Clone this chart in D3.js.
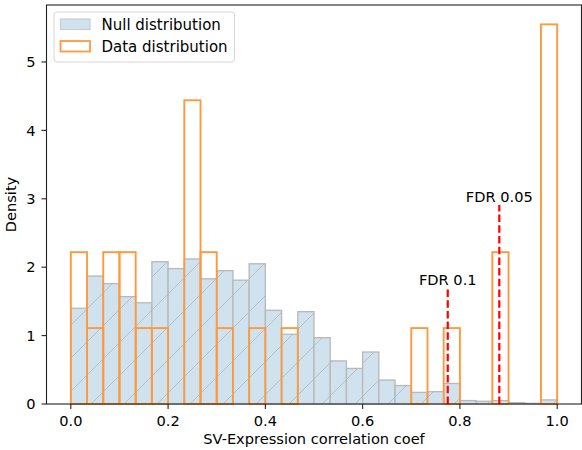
<!DOCTYPE html>
<html><head><meta charset="utf-8">
<script src="https://cdn.jsdelivr.net/npm/d3@7"></script>
<style>body{margin:0;background:#fff}text{font-family:"DejaVu Sans",sans-serif;fill:#000}</style>
</head><body><svg id="c" width="582" height="450"></svg>
<script>
const binCount = 30;
const binRange = [0, 1];
const nullDensity = [1.40,1.87,1.76,1.57,1.48,2.08,1.98,2.12,1.83,1.95,1.81,2.05,1.37,1.02,1.35,0.97,0.63,0.52,0.76,0.35,0.27,0.17,0.18,0.30,0.05,0.04,0.05,0.02,0.01,0.06];
const dataDensity = [2.22,1.11,2.22,2.22,1.11,1.11,0,4.44,2.22,1.11,0,1.11,0,1.11,0,0,0,0,0,0,0,1.11,0,1.11,0,0,2.22,0,0,5.55];
const fdrLabels = ["FDR 0.1","FDR 0.05"];
const fdrX = [0.775, 0.881];
const fdrTop = [1.70, 2.91];
const xTicks = [0,0.2,0.4,0.6,0.8,1.0];
const yTicks = [0,1,2,3,4,5];
const legendLabels = ["Null distribution","Data distribution"];
const xLabel = "SV-Expression correlation coef";
const yLabel = "Density";

const svg = d3.select("#c");
const L = 46.5, R = 581.5, T = 5, B = 404;
const x = d3.scaleLinear([-0.05, 1.05], [L, R]);
const y = d3.scaleLinear([0, 5.833], [B, T]);
const bw = (binRange[1]-binRange[0])/binCount;
const edge = i => binRange[0] + i*bw;
const fs = 14.6;

const nullFill = "#cfe2ee", nullEdge = "#b8b8b8", orange = "#ff993e";

const s = 33;
const defs = svg.append("defs");
defs.append("pattern").attr("id","hatch").attr("patternUnits","userSpaceOnUse")
  .attr("width",s).attr("height",s)
  .append("path")
  .attr("d",`M0,${s} L${s},0 M${-s/4},${s/4} L${s/4},${-s/4} M${3*s/4},${5*s/4} L${5*s/4},${3*s/4}`)
  .attr("stroke","#b3bec6").attr("stroke-width",1).attr("fill","none");

const gN = svg.append("g");
nullDensity.forEach((v,i)=>{
  const x0 = x(edge(i)), x1 = x(edge(i+1)), y0 = y(v);
  gN.append("rect").attr("x",x0).attr("y",y0).attr("width",x1-x0).attr("height",B-y0)
    .attr("fill",nullFill);
  gN.append("rect").attr("x",x0).attr("y",y0).attr("width",x1-x0).attr("height",B-y0)
    .attr("fill","url(#hatch)").attr("stroke",nullEdge).attr("stroke-width",1.3);
});

const gD = svg.append("g");
dataDensity.forEach((v,i)=>{
  if (v <= 0) return;
  const x0 = x(edge(i)), x1 = x(edge(i+1)), y0 = y(v);
  gD.append("rect").attr("x",x0).attr("y",y0).attr("width",x1-x0).attr("height",B-y0)
    .attr("fill","none").attr("stroke",orange).attr("stroke-width",1.9);
});

fdrX.forEach((fx,i)=>{
  svg.append("line").attr("x1",x(fx)).attr("x2",x(fx)).attr("y1",y(0)).attr("y2",y(fdrTop[i]))
    .attr("stroke","#ff0000").attr("stroke-width",2.2).attr("stroke-dasharray","7.5,3.2");
  svg.append("text").attr("x",x(fx)).attr("y",y(fdrTop[i])-3).attr("text-anchor","middle")
    .attr("font-size",fs).text(fdrLabels[i]);
});

svg.append("rect").attr("x",L).attr("y",T).attr("width",R-L).attr("height",B-T)
  .attr("fill","none").attr("stroke","#222").attr("stroke-width",1.1);

const gx = svg.append("g");
xTicks.forEach(t=>{
  gx.append("line").attr("x1",x(t)).attr("x2",x(t)).attr("y1",B).attr("y2",B+5).attr("stroke","#222").attr("stroke-width",1.1);
  gx.append("text").attr("x",x(t)).attr("y",426).attr("text-anchor","middle").attr("font-size",fs).text(d3.format(".1f")(t));
});
const gy = svg.append("g");
yTicks.forEach(t=>{
  gy.append("line").attr("x1",L-5).attr("x2",L).attr("y1",y(t)).attr("y2",y(t)).attr("stroke","#222").attr("stroke-width",1.1);
  gy.append("text").attr("x",35.5).attr("y",y(t)).attr("dy","0.36em").attr("text-anchor","end").attr("font-size",fs).text(t);
});
svg.append("text").attr("x",(L+R)/2).attr("y",444).attr("text-anchor","middle").attr("font-size",fs).text(xLabel);
svg.append("text").attr("transform",`translate(16,${(T+B)/2}) rotate(-90)`).attr("text-anchor","middle").attr("font-size",fs).text(yLabel);

const lg = svg.append("g");
lg.append("rect").attr("x",54).attr("y",12).attr("width",180.5).attr("height",50).attr("rx",3)
  .attr("fill","#fff").attr("fill-opacity",0.8).attr("stroke","#d6d6d6").attr("stroke-width",1);
lg.append("rect").attr("x",60.5).attr("y",19).attr("width",29.5).attr("height",10.5)
  .attr("fill",nullFill).attr("stroke","#c9ced2").attr("stroke-width",1.2);
lg.append("rect").attr("x",60.5).attr("y",41).attr("width",29.5).attr("height",10.5)
  .attr("fill","none").attr("stroke",orange).attr("stroke-width",1.8);
legendLabels.forEach((t,i)=>{
  lg.append("text").attr("x",101.5).attr("y",24.3+22*i).attr("dy","0.36em").attr("font-size",15).text(t);
});
</script></body></html>
